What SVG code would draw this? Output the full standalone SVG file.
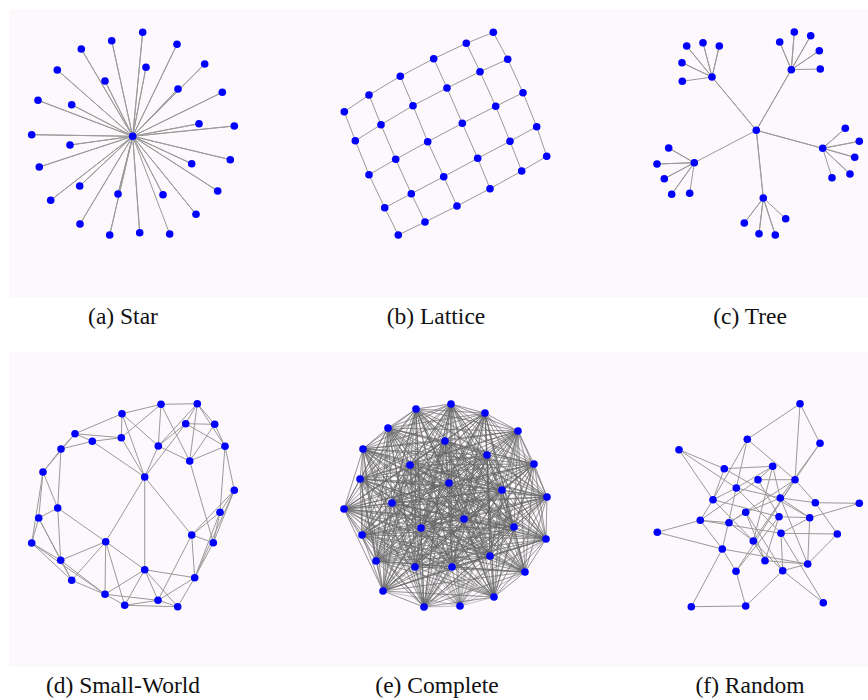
<svg xmlns="http://www.w3.org/2000/svg" width="868" height="700" viewBox="0 0 868 700">
<style>
.bg{fill:#fcf8fc}
.e{stroke:#9a9a9a;stroke-width:1;fill:none;stroke-linejoin:round}
.k{stroke:#666;stroke-width:0.8;stroke-opacity:0.5;fill:none;stroke-linejoin:round}
circle{fill:#0000ff}
.lbl{font-family:"Liberation Serif","DejaVu Serif",serif;font-size:23.5px;fill:#111;text-anchor:middle}
</style>
<rect width="868" height="700" fill="#fff"/>
<rect class="bg" x="9" y="9" width="859" height="288"/>
<rect class="bg" x="9" y="352" width="859" height="315"/>
<g id="connectors">
<path id="star-edges" class="e" d="M132.7,136.3 142.7,32.3 132.7,136.3 111.7,40.7 132.7,136.3 177,44.3 132.7,136.3 81.3,49 132.7,136.3 204.7,64 132.7,136.3 146,67.3 132.7,136.3 57.3,70 132.7,136.3 105,81 132.7,136.3 178,89 132.7,136.3 222.3,92.3 132.7,136.3 38,100.3 132.7,136.3 71.7,104.7 132.7,136.3 199,123.7 132.7,136.3 234.3,126 132.7,136.3 31.7,134.7 132.7,136.3 70,145 132.7,136.3 39.3,167 132.7,136.3 230.3,159.7 132.7,136.3 191.7,163.7 132.7,136.3 79.7,186 132.7,136.3 217.7,191 132.7,136.3 50.7,200.3 132.7,136.3 118,194 132.7,136.3 163,194.7 132.7,136.3 196,214.3 132.7,136.3 80,224 132.7,136.3 109.7,235 132.7,136.3 139.7,232.7 132.7,136.3 169.7,234"/>
<g id="lattice-edges" class="e">
<polyline points="344.3,111.7 369,95 400.3,76.3 433.7,58.7 466.3,43.3 493.3,32.3"/>
<polyline points="355.3,140.7 381,124.7 413,105.7 447,88 480,71.7 507.7,59.3"/>
<polyline points="369,174.7 395.7,159.3 427.7,141.7 462.3,123.3 495.7,106.3 523,92.7"/>
<polyline points="384.7,207.7 411.3,193.7 443.7,176.7 477.7,158.3 510,141.3 536.7,126.7"/>
<polyline points="398.3,235 425,222 457,206 490,188.7 521.7,171 546.7,156.3"/>
<polyline points="344.3,111.7 355.3,140.7 369,174.7 384.7,207.7 398.3,235"/>
<polyline points="369,95 381,124.7 395.7,159.3 411.3,193.7 425,222"/>
<polyline points="400.3,76.3 413,105.7 427.7,141.7 443.7,176.7 457,206"/>
<polyline points="433.7,58.7 447,88 462.3,123.3 477.7,158.3 490,188.7"/>
<polyline points="466.3,43.3 480,71.7 495.7,106.3 510,141.3 521.7,171"/>
<polyline points="493.3,32.3 507.7,59.3 523,92.7 536.7,126.7 546.7,156.3"/>
</g>
<path id="tree-edges" class="e" d="M756.3,130.3 712,77 756.3,130.3 791.3,69.7 756.3,130.3 822.7,148.3 756.3,130.3 763.3,198 756.3,130.3 694.3,162.7 M712,77 686.7,46 712,77 703,42.7 712,77 719.3,46 712,77 682,62.7 712,77 682.3,81.3 M791.3,69.7 779.7,42 791.3,69.7 794.3,32 791.3,69.7 810.7,35.7 791.3,69.7 819.3,50.7 791.3,69.7 820.3,69 M822.7,148.3 845.3,128.3 822.7,148.3 859.3,141.3 822.7,148.3 854.7,157.3 822.7,148.3 850,174 822.7,148.3 832,177.7 M763.3,198 744.3,223 763.3,198 759,233.7 763.3,198 775.3,235 763.3,198 785.7,218.7 M694.3,162.7 668.7,148 694.3,162.7 657,164 694.3,162.7 664.3,178.7 694.3,162.7 671.7,194.3 694.3,162.7 689.7,193.3"/>
<path id="smallworld-edges" class="e" d="M161,404.3L197.3,403.7M161,404.3L122,413.7M161,404.3L158.3,446M161,404.3L121.3,437.7M161,404.3L189.7,461M197.3,403.7L214.7,424.3M197.3,403.7L225,446.3M197.3,403.7L158.3,446M197.3,403.7L189.7,461M197.3,403.7L185.7,423.7M185.7,423.7L214.7,424.3M185.7,423.7L158.3,446M185.7,423.7L225,446.3M185.7,423.7L144.7,477M214.7,424.3L225,446.3M214.7,424.3L189.7,461M122,413.7L75,433.7M122,413.7L121.3,437.7M122,413.7L144.7,477M122,413.7L158.3,446M75,433.7L121.3,437.7M75,433.7L61,449M75,433.7L43,472M75,433.7L92.3,441.3M92.3,441.3L121.3,437.7M92.3,441.3L61,449M92.3,441.3L144.7,477M121.3,437.7L144.7,477M158.3,446L144.7,477M158.3,446L189.7,461M225,446.3L189.7,461M225,446.3L234.3,490.3M225,446.3L220,512.3M61,449L43,472M61,449L57.7,508M189.7,461L213.3,542.7M43,472L57.7,508M43,472L38.7,518M43,472L31.7,543M144.7,477L144.7,569.7M144.7,477L105.7,541.7M144.7,477L191.7,535M234.3,490.3L220,512.3M234.3,490.3L213.3,542.7M234.3,490.3L191.7,535M234.3,490.3L194.7,577.7M57.7,508L38.7,518M57.7,508L105.7,541.7M57.7,508L60.7,560.3M220,512.3L213.3,542.7M220,512.3L191.7,535M220,512.3L194.7,577.7M38.7,518L31.7,543M38.7,518L60.7,560.3M38.7,518L71.7,580.3M191.7,535L213.3,542.7M191.7,535L158,600.3M191.7,535L194.7,577.7M105.7,541.7L60.7,560.3M105.7,541.7L144.7,569.7M105.7,541.7L71.7,580.3M105.7,541.7L105,594.3M105.7,541.7L124.7,605.3M31.7,543L60.7,560.3M31.7,543L71.7,580.3M31.7,543L105,594.3M213.3,542.7L194.7,577.7M60.7,560.3L71.7,580.3M60.7,560.3L105,594.3M144.7,569.7L194.7,577.7M144.7,569.7L105,594.3M144.7,569.7L158,600.3M144.7,569.7L124.7,605.3M144.7,569.7L177.7,606.7M194.7,577.7L158,600.3M194.7,577.7L177.7,606.7M71.7,580.3L105,594.3M105,594.3L124.7,605.3M105,594.3L158,600.3M158,600.3L124.7,605.3M158,600.3L177.7,606.7M124.7,605.3L177.7,606.7"/>
<g id="complete-edges" class="k">
<path d="M451,404 416,409 451,404 485,413 451,404 388,428 451,404 518,431 451,404 445,441 451,404 363,449 451,404 487,455 451,404 534,464 451,404 410,465 451,404 360,479 451,404 449,483 451,404 502,490 451,404 547,497 451,404 392,503 451,404 344,509 451,404 464,519 451,404 421,528 451,404 514,527 451,404 362,535 451,404 546,539 451,404 490,556 451,404 376,561 451,404 415,567 451,404 452,567 451,404 525,572 451,404 383,591 451,404 494,597 451,404 424,607 451,404 460,606"/>
<path d="M416,409 485,413 416,409 388,428 416,409 518,431 416,409 445,441 416,409 363,449 416,409 487,455 416,409 534,464 416,409 410,465 416,409 360,479 416,409 449,483 416,409 502,490 416,409 547,497 416,409 392,503 416,409 344,509 416,409 464,519 416,409 421,528 416,409 514,527 416,409 362,535 416,409 546,539 416,409 490,556 416,409 376,561 416,409 415,567 416,409 452,567 416,409 525,572 416,409 383,591 416,409 494,597 416,409 424,607 416,409 460,606"/>
<path d="M485,413 388,428 485,413 518,431 485,413 445,441 485,413 363,449 485,413 487,455 485,413 534,464 485,413 410,465 485,413 360,479 485,413 449,483 485,413 502,490 485,413 547,497 485,413 392,503 485,413 344,509 485,413 464,519 485,413 421,528 485,413 514,527 485,413 362,535 485,413 546,539 485,413 490,556 485,413 376,561 485,413 415,567 485,413 452,567 485,413 525,572 485,413 383,591 485,413 494,597 485,413 424,607 485,413 460,606"/>
<path d="M388,428 518,431 388,428 445,441 388,428 363,449 388,428 487,455 388,428 534,464 388,428 410,465 388,428 360,479 388,428 449,483 388,428 502,490 388,428 547,497 388,428 392,503 388,428 344,509 388,428 464,519 388,428 421,528 388,428 514,527 388,428 362,535 388,428 546,539 388,428 490,556 388,428 376,561 388,428 415,567 388,428 452,567 388,428 525,572 388,428 383,591 388,428 494,597 388,428 424,607 388,428 460,606"/>
<path d="M518,431 445,441 518,431 363,449 518,431 487,455 518,431 534,464 518,431 410,465 518,431 360,479 518,431 449,483 518,431 502,490 518,431 547,497 518,431 392,503 518,431 344,509 518,431 464,519 518,431 421,528 518,431 514,527 518,431 362,535 518,431 546,539 518,431 490,556 518,431 376,561 518,431 415,567 518,431 452,567 518,431 525,572 518,431 383,591 518,431 494,597 518,431 424,607 518,431 460,606"/>
<path d="M445,441 363,449 445,441 487,455 445,441 534,464 445,441 410,465 445,441 360,479 445,441 449,483 445,441 502,490 445,441 547,497 445,441 392,503 445,441 344,509 445,441 464,519 445,441 421,528 445,441 514,527 445,441 362,535 445,441 546,539 445,441 490,556 445,441 376,561 445,441 415,567 445,441 452,567 445,441 525,572 445,441 383,591 445,441 494,597 445,441 424,607 445,441 460,606"/>
<path d="M363,449 487,455 363,449 534,464 363,449 410,465 363,449 360,479 363,449 449,483 363,449 502,490 363,449 547,497 363,449 392,503 363,449 344,509 363,449 464,519 363,449 421,528 363,449 514,527 363,449 362,535 363,449 546,539 363,449 490,556 363,449 376,561 363,449 415,567 363,449 452,567 363,449 525,572 363,449 383,591 363,449 494,597 363,449 424,607 363,449 460,606"/>
<path d="M487,455 534,464 487,455 410,465 487,455 360,479 487,455 449,483 487,455 502,490 487,455 547,497 487,455 392,503 487,455 344,509 487,455 464,519 487,455 421,528 487,455 514,527 487,455 362,535 487,455 546,539 487,455 490,556 487,455 376,561 487,455 415,567 487,455 452,567 487,455 525,572 487,455 383,591 487,455 494,597 487,455 424,607 487,455 460,606"/>
<path d="M534,464 410,465 534,464 360,479 534,464 449,483 534,464 502,490 534,464 547,497 534,464 392,503 534,464 344,509 534,464 464,519 534,464 421,528 534,464 514,527 534,464 362,535 534,464 546,539 534,464 490,556 534,464 376,561 534,464 415,567 534,464 452,567 534,464 525,572 534,464 383,591 534,464 494,597 534,464 424,607 534,464 460,606"/>
<path d="M410,465 360,479 410,465 449,483 410,465 502,490 410,465 547,497 410,465 392,503 410,465 344,509 410,465 464,519 410,465 421,528 410,465 514,527 410,465 362,535 410,465 546,539 410,465 490,556 410,465 376,561 410,465 415,567 410,465 452,567 410,465 525,572 410,465 383,591 410,465 494,597 410,465 424,607 410,465 460,606"/>
<path d="M360,479 449,483 360,479 502,490 360,479 547,497 360,479 392,503 360,479 344,509 360,479 464,519 360,479 421,528 360,479 514,527 360,479 362,535 360,479 546,539 360,479 490,556 360,479 376,561 360,479 415,567 360,479 452,567 360,479 525,572 360,479 383,591 360,479 494,597 360,479 424,607 360,479 460,606"/>
<path d="M449,483 502,490 449,483 547,497 449,483 392,503 449,483 344,509 449,483 464,519 449,483 421,528 449,483 514,527 449,483 362,535 449,483 546,539 449,483 490,556 449,483 376,561 449,483 415,567 449,483 452,567 449,483 525,572 449,483 383,591 449,483 494,597 449,483 424,607 449,483 460,606"/>
<path d="M502,490 547,497 502,490 392,503 502,490 344,509 502,490 464,519 502,490 421,528 502,490 514,527 502,490 362,535 502,490 546,539 502,490 490,556 502,490 376,561 502,490 415,567 502,490 452,567 502,490 525,572 502,490 383,591 502,490 494,597 502,490 424,607 502,490 460,606"/>
<path d="M547,497 392,503 547,497 344,509 547,497 464,519 547,497 421,528 547,497 514,527 547,497 362,535 547,497 546,539 547,497 490,556 547,497 376,561 547,497 415,567 547,497 452,567 547,497 525,572 547,497 383,591 547,497 494,597 547,497 424,607 547,497 460,606"/>
<path d="M392,503 344,509 392,503 464,519 392,503 421,528 392,503 514,527 392,503 362,535 392,503 546,539 392,503 490,556 392,503 376,561 392,503 415,567 392,503 452,567 392,503 525,572 392,503 383,591 392,503 494,597 392,503 424,607 392,503 460,606"/>
<path d="M344,509 464,519 344,509 421,528 344,509 514,527 344,509 362,535 344,509 546,539 344,509 490,556 344,509 376,561 344,509 415,567 344,509 452,567 344,509 525,572 344,509 383,591 344,509 494,597 344,509 424,607 344,509 460,606"/>
<path d="M464,519 421,528 464,519 514,527 464,519 362,535 464,519 546,539 464,519 490,556 464,519 376,561 464,519 415,567 464,519 452,567 464,519 525,572 464,519 383,591 464,519 494,597 464,519 424,607 464,519 460,606"/>
<path d="M421,528 514,527 421,528 362,535 421,528 546,539 421,528 490,556 421,528 376,561 421,528 415,567 421,528 452,567 421,528 525,572 421,528 383,591 421,528 494,597 421,528 424,607 421,528 460,606"/>
<path d="M514,527 362,535 514,527 546,539 514,527 490,556 514,527 376,561 514,527 415,567 514,527 452,567 514,527 525,572 514,527 383,591 514,527 494,597 514,527 424,607 514,527 460,606"/>
<path d="M362,535 546,539 362,535 490,556 362,535 376,561 362,535 415,567 362,535 452,567 362,535 525,572 362,535 383,591 362,535 494,597 362,535 424,607 362,535 460,606"/>
<path d="M546,539 490,556 546,539 376,561 546,539 415,567 546,539 452,567 546,539 525,572 546,539 383,591 546,539 494,597 546,539 424,607 546,539 460,606"/>
<path d="M490,556 376,561 490,556 415,567 490,556 452,567 490,556 525,572 490,556 383,591 490,556 494,597 490,556 424,607 490,556 460,606"/>
<path d="M376,561 415,567 376,561 452,567 376,561 525,572 376,561 383,591 376,561 494,597 376,561 424,607 376,561 460,606"/>
<path d="M415,567 452,567 415,567 525,572 415,567 383,591 415,567 494,597 415,567 424,607 415,567 460,606"/>
<path d="M452,567 525,572 452,567 383,591 452,567 494,597 452,567 424,607 452,567 460,606"/>
<path d="M525,572 383,591 525,572 494,597 525,572 424,607 525,572 460,606"/>
<path d="M383,591 494,597 383,591 424,607 383,591 460,606"/>
<path d="M494,597 424,607 494,597 460,606"/>
<path d="M424,607 460,606"/>
</g>
<path id="random-edges" class="e" d="M800,403.7L747.3,439.3M800,403.7L820,443.3M800,403.7L795,479.7M747.3,439.3L795,479.7M747.3,439.3L713,499.7M747.3,439.3L736.3,488M820,443.3L795,479.7M820,443.3L780.3,498M679,449.7L724.3,468.7M679,449.7L736.3,488M679,449.7L713,499.7M724.3,468.7L772.7,466.3M724.3,468.7L713,499.7M724.3,468.7L809.7,517.7M772.7,466.3L758,479.7M772.7,466.3L780.3,498M772.7,466.3L753.3,541M772.7,466.3L736.3,488M758,479.7L795,479.7M758,479.7L779,516.7M758,479.7L700.3,520.3M795,479.7L815.3,502.7M795,479.7L753.3,541M795,479.7L736,571.3M795,479.7L729,522.7M736.3,488L713,499.7M736.3,488L780.3,498M736.3,488L781,533.3M736.3,488L722.3,549M713,499.7L700.3,520.3M713,499.7L753.3,541M713,499.7L779,516.7M780.3,498L815.3,502.7M780.3,498L809.7,517.7M780.3,498L807.7,564M815.3,502.7L859.3,503.3M815.3,502.7L837.3,534M859.3,503.3L809.7,517.7M745.7,512.3L729,522.7M745.7,512.3L780.3,498M745.7,512.3L765,560.7M745.7,512.3L782.7,570.7M779,516.7L809.7,517.7M779,516.7L765,560.7M779,516.7L736,571.3M809.7,517.7L781,533.3M809.7,517.7L807.7,564M700.3,520.3L657.3,532.3M700.3,520.3L729,522.7M700.3,520.3L781,533.3M700.3,520.3L722.3,549M657.3,532.3L722.3,549M781,533.3L837.3,534M781,533.3L782.7,570.7M781,533.3L823.3,602.7M753.3,541L765,560.7M753.3,541L729,522.7M753.3,541L782.7,570.7M722.3,549L736,571.3M722.3,549L691.3,606.7M722.3,549L807.7,564M765,560.7L807.7,564M807.7,564L837.3,534M807.7,564L782.7,570.7M736,571.3L745.7,606M782.7,570.7L745.7,606M782.7,570.7L823.3,602.7M691.3,606.7L745.7,606"/>
</g>
<g id="star-nodes">
<g id="a0"><circle cx="132.7" cy="136.3" r="3.8"/></g>
<g id="a1"><circle cx="142.7" cy="32.3" r="3.8"/></g>
<g id="a2"><circle cx="111.7" cy="40.7" r="3.8"/></g>
<g id="a3"><circle cx="177" cy="44.3" r="3.8"/></g>
<g id="a4"><circle cx="81.3" cy="49" r="3.8"/></g>
<g id="a5"><circle cx="204.7" cy="64" r="3.8"/></g>
<g id="a6"><circle cx="146" cy="67.3" r="3.8"/></g>
<g id="a7"><circle cx="57.3" cy="70" r="3.8"/></g>
<g id="a8"><circle cx="105" cy="81" r="3.8"/></g>
<g id="a9"><circle cx="178" cy="89" r="3.8"/></g>
<g id="a10"><circle cx="222.3" cy="92.3" r="3.8"/></g>
<g id="a11"><circle cx="38" cy="100.3" r="3.8"/></g>
<g id="a12"><circle cx="71.7" cy="104.7" r="3.8"/></g>
<g id="a13"><circle cx="199" cy="123.7" r="3.8"/></g>
<g id="a14"><circle cx="234.3" cy="126" r="3.8"/></g>
<g id="a15"><circle cx="31.7" cy="134.7" r="3.8"/></g>
<g id="a16"><circle cx="70" cy="145" r="3.8"/></g>
<g id="a17"><circle cx="39.3" cy="167" r="3.8"/></g>
<g id="a18"><circle cx="230.3" cy="159.7" r="3.8"/></g>
<g id="a19"><circle cx="191.7" cy="163.7" r="3.8"/></g>
<g id="a20"><circle cx="79.7" cy="186" r="3.8"/></g>
<g id="a21"><circle cx="217.7" cy="191" r="3.8"/></g>
<g id="a22"><circle cx="50.7" cy="200.3" r="3.8"/></g>
<g id="a23"><circle cx="118" cy="194" r="3.8"/></g>
<g id="a24"><circle cx="163" cy="194.7" r="3.8"/></g>
<g id="a25"><circle cx="196" cy="214.3" r="3.8"/></g>
<g id="a26"><circle cx="80" cy="224" r="3.8"/></g>
<g id="a27"><circle cx="109.7" cy="235" r="3.8"/></g>
<g id="a28"><circle cx="139.7" cy="232.7" r="3.8"/></g>
<g id="a29"><circle cx="169.7" cy="234" r="3.8"/></g>
</g>
<g id="lattice-nodes">
<g id="b1"><circle cx="344.3" cy="111.7" r="3.8"/></g>
<g id="b2"><circle cx="369" cy="95" r="3.8"/></g>
<g id="b3"><circle cx="400.3" cy="76.3" r="3.8"/></g>
<g id="b4"><circle cx="433.7" cy="58.7" r="3.8"/></g>
<g id="b5"><circle cx="466.3" cy="43.3" r="3.8"/></g>
<g id="b6"><circle cx="493.3" cy="32.3" r="3.8"/></g>
<g id="b7"><circle cx="355.3" cy="140.7" r="3.8"/></g>
<g id="b8"><circle cx="381" cy="124.7" r="3.8"/></g>
<g id="b9"><circle cx="413" cy="105.7" r="3.8"/></g>
<g id="b10"><circle cx="447" cy="88" r="3.8"/></g>
<g id="b11"><circle cx="480" cy="71.7" r="3.8"/></g>
<g id="b12"><circle cx="507.7" cy="59.3" r="3.8"/></g>
<g id="b13"><circle cx="369" cy="174.7" r="3.8"/></g>
<g id="b14"><circle cx="395.7" cy="159.3" r="3.8"/></g>
<g id="b15"><circle cx="427.7" cy="141.7" r="3.8"/></g>
<g id="b16"><circle cx="462.3" cy="123.3" r="3.8"/></g>
<g id="b17"><circle cx="495.7" cy="106.3" r="3.8"/></g>
<g id="b18"><circle cx="523" cy="92.7" r="3.8"/></g>
<g id="b19"><circle cx="384.7" cy="207.7" r="3.8"/></g>
<g id="b20"><circle cx="411.3" cy="193.7" r="3.8"/></g>
<g id="b21"><circle cx="443.7" cy="176.7" r="3.8"/></g>
<g id="b22"><circle cx="477.7" cy="158.3" r="3.8"/></g>
<g id="b23"><circle cx="510" cy="141.3" r="3.8"/></g>
<g id="b24"><circle cx="536.7" cy="126.7" r="3.8"/></g>
<g id="b25"><circle cx="398.3" cy="235" r="3.8"/></g>
<g id="b26"><circle cx="425" cy="222" r="3.8"/></g>
<g id="b27"><circle cx="457" cy="206" r="3.8"/></g>
<g id="b28"><circle cx="490" cy="188.7" r="3.8"/></g>
<g id="b29"><circle cx="521.7" cy="171" r="3.8"/></g>
<g id="b30"><circle cx="546.7" cy="156.3" r="3.8"/></g>
</g>
<g id="tree-nodes">
<g id="c0"><circle cx="756.3" cy="130.3" r="3.8"/></g>
<g id="c1"><circle cx="712" cy="77" r="3.8"/></g>
<g id="c2"><circle cx="791.3" cy="69.7" r="3.8"/></g>
<g id="c3"><circle cx="822.7" cy="148.3" r="3.8"/></g>
<g id="c4"><circle cx="763.3" cy="198" r="3.8"/></g>
<g id="c5"><circle cx="694.3" cy="162.7" r="3.8"/></g>
<g id="c6"><circle cx="686.7" cy="46" r="3.8"/></g>
<g id="c7"><circle cx="703" cy="42.7" r="3.8"/></g>
<g id="c8"><circle cx="719.3" cy="46" r="3.8"/></g>
<g id="c9"><circle cx="682" cy="62.7" r="3.8"/></g>
<g id="c10"><circle cx="682.3" cy="81.3" r="3.8"/></g>
<g id="c11"><circle cx="779.7" cy="42" r="3.8"/></g>
<g id="c12"><circle cx="794.3" cy="32" r="3.8"/></g>
<g id="c13"><circle cx="810.7" cy="35.7" r="3.8"/></g>
<g id="c14"><circle cx="819.3" cy="50.7" r="3.8"/></g>
<g id="c15"><circle cx="820.3" cy="69" r="3.8"/></g>
<g id="c16"><circle cx="845.3" cy="128.3" r="3.8"/></g>
<g id="c17"><circle cx="859.3" cy="141.3" r="3.8"/></g>
<g id="c18"><circle cx="854.7" cy="157.3" r="3.8"/></g>
<g id="c19"><circle cx="850" cy="174" r="3.8"/></g>
<g id="c20"><circle cx="832" cy="177.7" r="3.8"/></g>
<g id="c21"><circle cx="744.3" cy="223" r="3.8"/></g>
<g id="c22"><circle cx="759" cy="233.7" r="3.8"/></g>
<g id="c23"><circle cx="775.3" cy="235" r="3.8"/></g>
<g id="c24"><circle cx="785.7" cy="218.7" r="3.8"/></g>
<g id="c25"><circle cx="668.7" cy="148" r="3.8"/></g>
<g id="c26"><circle cx="657" cy="164" r="3.8"/></g>
<g id="c27"><circle cx="664.3" cy="178.7" r="3.8"/></g>
<g id="c28"><circle cx="671.7" cy="194.3" r="3.8"/></g>
<g id="c29"><circle cx="689.7" cy="193.3" r="3.8"/></g>
</g>
<g id="smallworld-nodes">
<g id="d1"><circle cx="161" cy="404.3" r="3.8"/></g>
<g id="d2"><circle cx="197.3" cy="403.7" r="3.8"/></g>
<g id="d3"><circle cx="122" cy="413.7" r="3.8"/></g>
<g id="d4"><circle cx="185.7" cy="423.7" r="3.8"/></g>
<g id="d5"><circle cx="214.7" cy="424.3" r="3.8"/></g>
<g id="d6"><circle cx="75" cy="433.7" r="3.8"/></g>
<g id="d7"><circle cx="92.3" cy="441.3" r="3.8"/></g>
<g id="d8"><circle cx="121.3" cy="437.7" r="3.8"/></g>
<g id="d9"><circle cx="158.3" cy="446" r="3.8"/></g>
<g id="d10"><circle cx="225" cy="446.3" r="3.8"/></g>
<g id="d11"><circle cx="61" cy="449" r="3.8"/></g>
<g id="d12"><circle cx="189.7" cy="461" r="3.8"/></g>
<g id="d13"><circle cx="43" cy="472" r="3.8"/></g>
<g id="d14"><circle cx="144.7" cy="477" r="3.8"/></g>
<g id="d15"><circle cx="234.3" cy="490.3" r="3.8"/></g>
<g id="d16"><circle cx="57.7" cy="508" r="3.8"/></g>
<g id="d17"><circle cx="220" cy="512.3" r="3.8"/></g>
<g id="d18"><circle cx="38.7" cy="518" r="3.8"/></g>
<g id="d19"><circle cx="191.7" cy="535" r="3.8"/></g>
<g id="d20"><circle cx="105.7" cy="541.7" r="3.8"/></g>
<g id="d21"><circle cx="31.7" cy="543" r="3.8"/></g>
<g id="d22"><circle cx="213.3" cy="542.7" r="3.8"/></g>
<g id="d23"><circle cx="60.7" cy="560.3" r="3.8"/></g>
<g id="d24"><circle cx="144.7" cy="569.7" r="3.8"/></g>
<g id="d25"><circle cx="194.7" cy="577.7" r="3.8"/></g>
<g id="d26"><circle cx="71.7" cy="580.3" r="3.8"/></g>
<g id="d27"><circle cx="105" cy="594.3" r="3.8"/></g>
<g id="d28"><circle cx="158" cy="600.3" r="3.8"/></g>
<g id="d29"><circle cx="124.7" cy="605.3" r="3.8"/></g>
<g id="d30"><circle cx="177.7" cy="606.7" r="3.8"/></g>
</g>
<g id="complete-nodes">
<g id="e0"><circle cx="451" cy="404" r="3.8"/></g>
<g id="e1"><circle cx="416" cy="409" r="3.8"/></g>
<g id="e2"><circle cx="485" cy="413" r="3.8"/></g>
<g id="e3"><circle cx="388" cy="428" r="3.8"/></g>
<g id="e4"><circle cx="518" cy="431" r="3.8"/></g>
<g id="e5"><circle cx="445" cy="441" r="3.8"/></g>
<g id="e6"><circle cx="363" cy="449" r="3.8"/></g>
<g id="e7"><circle cx="487" cy="455" r="3.8"/></g>
<g id="e8"><circle cx="534" cy="464" r="3.8"/></g>
<g id="e9"><circle cx="410" cy="465" r="3.8"/></g>
<g id="e10"><circle cx="360" cy="479" r="3.8"/></g>
<g id="e11"><circle cx="449" cy="483" r="3.8"/></g>
<g id="e12"><circle cx="502" cy="490" r="3.8"/></g>
<g id="e13"><circle cx="547" cy="497" r="3.8"/></g>
<g id="e14"><circle cx="392" cy="503" r="3.8"/></g>
<g id="e15"><circle cx="344" cy="509" r="3.8"/></g>
<g id="e16"><circle cx="464" cy="519" r="3.8"/></g>
<g id="e17"><circle cx="421" cy="528" r="3.8"/></g>
<g id="e18"><circle cx="514" cy="527" r="3.8"/></g>
<g id="e19"><circle cx="362" cy="535" r="3.8"/></g>
<g id="e20"><circle cx="546" cy="539" r="3.8"/></g>
<g id="e21"><circle cx="490" cy="556" r="3.8"/></g>
<g id="e22"><circle cx="376" cy="561" r="3.8"/></g>
<g id="e23"><circle cx="415" cy="567" r="3.8"/></g>
<g id="e24"><circle cx="452" cy="567" r="3.8"/></g>
<g id="e25"><circle cx="525" cy="572" r="3.8"/></g>
<g id="e26"><circle cx="383" cy="591" r="3.8"/></g>
<g id="e27"><circle cx="494" cy="597" r="3.8"/></g>
<g id="e28"><circle cx="424" cy="607" r="3.8"/></g>
<g id="e29"><circle cx="460" cy="606" r="3.8"/></g>
</g>
<g id="random-nodes">
<g id="f1"><circle cx="800" cy="403.7" r="3.8"/></g>
<g id="f2"><circle cx="747.3" cy="439.3" r="3.8"/></g>
<g id="f3"><circle cx="820" cy="443.3" r="3.8"/></g>
<g id="f4"><circle cx="679" cy="449.7" r="3.8"/></g>
<g id="f5"><circle cx="724.3" cy="468.7" r="3.8"/></g>
<g id="f6"><circle cx="772.7" cy="466.3" r="3.8"/></g>
<g id="f7"><circle cx="758" cy="479.7" r="3.8"/></g>
<g id="f8"><circle cx="795" cy="479.7" r="3.8"/></g>
<g id="f9"><circle cx="736.3" cy="488" r="3.8"/></g>
<g id="f10"><circle cx="713" cy="499.7" r="3.8"/></g>
<g id="f11"><circle cx="780.3" cy="498" r="3.8"/></g>
<g id="f12"><circle cx="815.3" cy="502.7" r="3.8"/></g>
<g id="f13"><circle cx="859.3" cy="503.3" r="3.8"/></g>
<g id="f14"><circle cx="745.7" cy="512.3" r="3.8"/></g>
<g id="f15"><circle cx="779" cy="516.7" r="3.8"/></g>
<g id="f16"><circle cx="809.7" cy="517.7" r="3.8"/></g>
<g id="f17"><circle cx="700.3" cy="520.3" r="3.8"/></g>
<g id="f18"><circle cx="729" cy="522.7" r="3.8"/></g>
<g id="f19"><circle cx="657.3" cy="532.3" r="3.8"/></g>
<g id="f20"><circle cx="781" cy="533.3" r="3.8"/></g>
<g id="f21"><circle cx="837.3" cy="534" r="3.8"/></g>
<g id="f22"><circle cx="753.3" cy="541" r="3.8"/></g>
<g id="f23"><circle cx="722.3" cy="549" r="3.8"/></g>
<g id="f24"><circle cx="765" cy="560.7" r="3.8"/></g>
<g id="f25"><circle cx="807.7" cy="564" r="3.8"/></g>
<g id="f26"><circle cx="736" cy="571.3" r="3.8"/></g>
<g id="f27"><circle cx="782.7" cy="570.7" r="3.8"/></g>
<g id="f28"><circle cx="691.3" cy="606.7" r="3.8"/></g>
<g id="f29"><circle cx="745.7" cy="606" r="3.8"/></g>
<g id="f30"><circle cx="823.3" cy="602.7" r="3.8"/></g>
</g>
<g id="labels">
<text class="lbl" x="123" y="324">(a) Star</text>
<text class="lbl" x="436" y="324">(b) Lattice</text>
<text class="lbl" x="750" y="324">(c) Tree</text>
<text class="lbl" x="123" y="693">(d) Small-World</text>
<text class="lbl" x="437" y="693">(e) Complete</text>
<text class="lbl" x="750" y="693">(f) Random</text>
</g>
</svg>
